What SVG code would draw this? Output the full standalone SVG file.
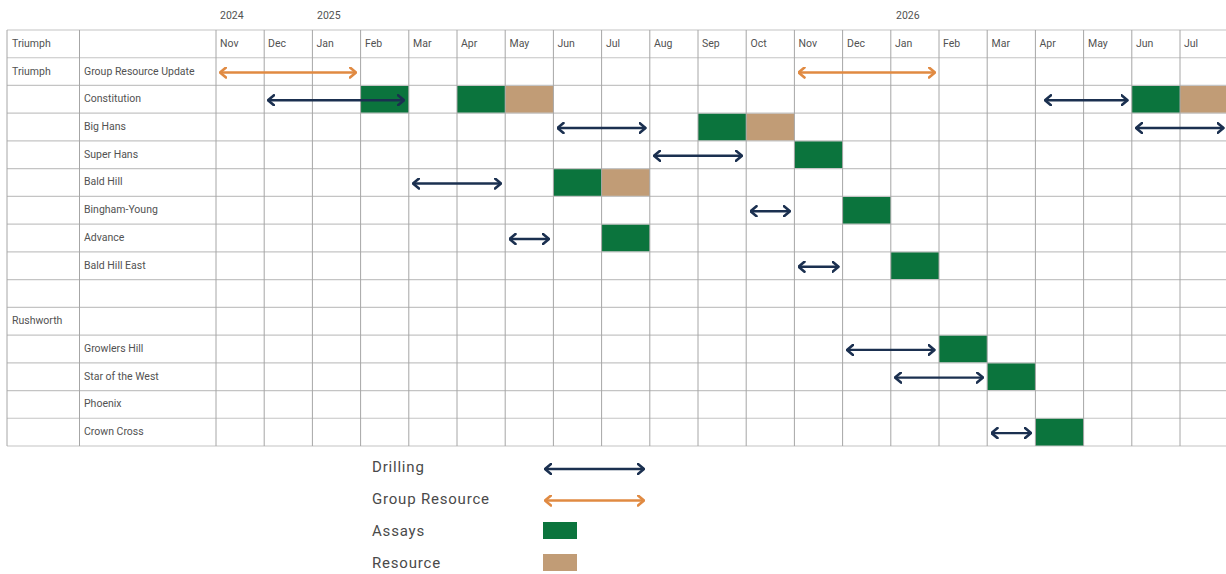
<svg xmlns="http://www.w3.org/2000/svg" width="1226" height="574" viewBox="0 0 1226 574">
<style>
.t{font-family:Roboto,"Liberation Sans",sans-serif;font-size:10.5px;fill:#525252}
.lg{font-family:Roboto,"Liberation Sans",sans-serif;font-size:15px;fill:#4a4a4a;letter-spacing:0.8px}
.gh{stroke:#c4c4c4;stroke-width:1.2}
.gv{stroke:#a6a6a6;stroke-width:1}
.as{fill:#0b743d}
.rs{fill:#c19c76}
.dr{stroke:#1b3050;stroke-width:2.4;fill:none;marker-start:url(#mn);marker-end:url(#mn)}
.gr{stroke:#e08a42;stroke-width:2.4;fill:none;marker-start:url(#mo);marker-end:url(#mo)}
</style>
<defs>
<marker id="mn" markerUnits="userSpaceOnUse" viewBox="0 0 8 12" markerWidth="8" markerHeight="12" refX="7" refY="6" orient="auto-start-reverse"><path d="M1,1 L7,6 L1,11" fill="none" stroke="#1b3050" stroke-width="2.6" stroke-linecap="round" stroke-linejoin="round"/></marker>
<marker id="mo" markerUnits="userSpaceOnUse" viewBox="0 0 8 12" markerWidth="8" markerHeight="12" refX="7" refY="6" orient="auto-start-reverse"><path d="M1,1 L7,6 L1,11" fill="none" stroke="#e08a42" stroke-width="2.6" stroke-linecap="round" stroke-linejoin="round"/></marker>
</defs>
<rect width="1226" height="574" fill="#fff"/>
<g id="years">
<text class="t" x="220" y="18.5">2024</text>
<text class="t" x="317" y="18.5">2025</text>
<text class="t" x="896" y="18.5">2026</text>
</g>
<g id="cells">
<rect class="as" x="360.6" y="85.47" width="48.2" height="27.73"/>
<rect class="as" x="457" y="85.47" width="48.2" height="27.73"/>
<rect class="rs" x="505.2" y="85.47" width="48.2" height="27.73"/>
<rect class="as" x="1131.8" y="85.47" width="48.2" height="27.73"/>
<rect class="rs" x="1180" y="85.47" width="48.2" height="27.73"/>
<rect class="as" x="698" y="113.2" width="48.2" height="27.73"/>
<rect class="rs" x="746.2" y="113.2" width="48.2" height="27.73"/>
<rect class="as" x="794.4" y="140.93" width="48.2" height="27.73"/>
<rect class="as" x="553.4" y="168.67" width="48.2" height="27.73"/>
<rect class="rs" x="601.6" y="168.67" width="48.2" height="27.73"/>
<rect class="as" x="842.6" y="196.4" width="48.2" height="27.73"/>
<rect class="as" x="601.6" y="224.13" width="48.2" height="27.73"/>
<rect class="as" x="890.8" y="251.87" width="48.2" height="27.73"/>
<rect class="as" x="939" y="335.07" width="48.2" height="27.73"/>
<rect class="as" x="987.2" y="362.8" width="48.2" height="27.73"/>
<rect class="as" x="1035.4" y="418.27" width="48.2" height="27.73"/>
</g>
<g id="grid">
<g class="gh">
<line x1="7" y1="30" x2="1226" y2="30"/>
<line x1="7" y1="57.73" x2="1226" y2="57.73"/>
<line x1="7" y1="85.47" x2="1226" y2="85.47"/>
<line x1="7" y1="113.2" x2="1226" y2="113.2"/>
<line x1="7" y1="140.93" x2="1226" y2="140.93"/>
<line x1="7" y1="168.67" x2="1226" y2="168.67"/>
<line x1="7" y1="196.4" x2="1226" y2="196.4"/>
<line x1="7" y1="224.13" x2="1226" y2="224.13"/>
<line x1="7" y1="251.87" x2="1226" y2="251.87"/>
<line x1="7" y1="279.6" x2="1226" y2="279.6"/>
<line x1="7" y1="307.33" x2="1226" y2="307.33"/>
<line x1="7" y1="335.07" x2="1226" y2="335.07"/>
<line x1="7" y1="362.8" x2="1226" y2="362.8"/>
<line x1="7" y1="390.53" x2="1226" y2="390.53"/>
<line x1="7" y1="418.27" x2="1226" y2="418.27"/>
<line x1="7" y1="446" x2="1226" y2="446"/>
</g>
<g class="gv">
<line x1="7" y1="30" x2="7" y2="446"/>
<line x1="79.5" y1="30" x2="79.5" y2="446"/>
<line x1="216" y1="30" x2="216" y2="446"/>
<line x1="264.2" y1="30" x2="264.2" y2="446"/>
<line x1="312.4" y1="30" x2="312.4" y2="446"/>
<line x1="360.6" y1="30" x2="360.6" y2="446"/>
<line x1="408.8" y1="30" x2="408.8" y2="446"/>
<line x1="457" y1="30" x2="457" y2="446"/>
<line x1="505.2" y1="30" x2="505.2" y2="446"/>
<line x1="553.4" y1="30" x2="553.4" y2="446"/>
<line x1="601.6" y1="30" x2="601.6" y2="446"/>
<line x1="649.8" y1="30" x2="649.8" y2="446"/>
<line x1="698" y1="30" x2="698" y2="446"/>
<line x1="746.2" y1="30" x2="746.2" y2="446"/>
<line x1="794.4" y1="30" x2="794.4" y2="446"/>
<line x1="842.6" y1="30" x2="842.6" y2="446"/>
<line x1="890.8" y1="30" x2="890.8" y2="446"/>
<line x1="939" y1="30" x2="939" y2="446"/>
<line x1="987.2" y1="30" x2="987.2" y2="446"/>
<line x1="1035.4" y1="30" x2="1035.4" y2="446"/>
<line x1="1083.6" y1="30" x2="1083.6" y2="446"/>
<line x1="1131.8" y1="30" x2="1131.8" y2="446"/>
<line x1="1180" y1="30" x2="1180" y2="446"/>
</g>
</g>
<g id="header">
<text class="t" x="12" y="46.8">Triumph</text>
<text class="t" x="220" y="46.8">Nov</text>
<text class="t" x="268" y="46.8">Dec</text>
<text class="t" x="316.5" y="46.8">Jan</text>
<text class="t" x="365" y="46.8">Feb</text>
<text class="t" x="413" y="46.8">Mar</text>
<text class="t" x="461" y="46.8">Apr</text>
<text class="t" x="509.5" y="46.8">May</text>
<text class="t" x="557.5" y="46.8">Jun</text>
<text class="t" x="606" y="46.8">Jul</text>
<text class="t" x="654" y="46.8">Aug</text>
<text class="t" x="702" y="46.8">Sep</text>
<text class="t" x="750.5" y="46.8">Oct</text>
<text class="t" x="798.5" y="46.8">Nov</text>
<text class="t" x="847" y="46.8">Dec</text>
<text class="t" x="895" y="46.8">Jan</text>
<text class="t" x="943" y="46.8">Feb</text>
<text class="t" x="991.5" y="46.8">Mar</text>
<text class="t" x="1039.5" y="46.8">Apr</text>
<text class="t" x="1088" y="46.8">May</text>
<text class="t" x="1136" y="46.8">Jun</text>
<text class="t" x="1184" y="46.8">Jul</text>
</g>
<g id="labels">
<text class="t" x="12" y="74.5">Triumph</text>
<text class="t" x="84" y="74.5">Group Resource Update</text>
<text class="t" x="84" y="102.3">Constitution</text>
<text class="t" x="84" y="130">Big Hans</text>
<text class="t" x="84" y="157.7">Super Hans</text>
<text class="t" x="84" y="185.4">Bald Hill</text>
<text class="t" x="84" y="213.2">Bingham-Young</text>
<text class="t" x="84" y="240.9">Advance</text>
<text class="t" x="84" y="268.6">Bald Hill East</text>
<text class="t" x="12" y="324.1">Rushworth</text>
<text class="t" x="84" y="351.8">Growlers Hill</text>
<text class="t" x="84" y="379.6">Star of the West</text>
<text class="t" x="84" y="407.3">Phoenix</text>
<text class="t" x="84" y="435">Crown Cross</text>
</g>
<g id="connectors">
<line class="gr" x1="220" y1="72.5" x2="356" y2="72.5"/>
<line class="gr" x1="798.5" y1="72.5" x2="935" y2="72.5"/>
<line class="dr" x1="268" y1="100.3" x2="404" y2="100.3"/>
<line class="dr" x1="1045" y1="100.3" x2="1127.5" y2="100.3"/>
<line class="dr" x1="557.5" y1="128" x2="645.5" y2="128"/>
<line class="dr" x1="1136" y1="128" x2="1223.5" y2="128"/>
<line class="dr" x1="654" y1="155.8" x2="742" y2="155.8"/>
<line class="dr" x1="413" y1="183.5" x2="501" y2="183.5"/>
<line class="dr" x1="750.5" y1="211.2" x2="790" y2="211.2"/>
<line class="dr" x1="509.5" y1="239" x2="549" y2="239"/>
<line class="dr" x1="798.5" y1="266.7" x2="838.5" y2="266.7"/>
<line class="dr" x1="847" y1="349.9" x2="934.5" y2="349.9"/>
<line class="dr" x1="895" y1="377.6" x2="983" y2="377.6"/>
<line class="dr" x1="991.5" y1="433.1" x2="1031" y2="433.1"/>
</g>
<g id="legend">
<text class="lg" x="372" y="472">Drilling</text>
<text class="lg" x="372" y="504">Group Resource</text>
<text class="lg" x="372" y="536">Assays</text>
<text class="lg" x="372" y="568">Resource</text>
<line class="dr" x1="545" y1="469" x2="644" y2="469"/>
<line class="gr" x1="545" y1="500.5" x2="644" y2="500.5"/>
<rect class="as" x="543" y="522" width="34" height="17"/>
<rect class="rs" x="543" y="554" width="34" height="17"/>
</g>
</svg>
